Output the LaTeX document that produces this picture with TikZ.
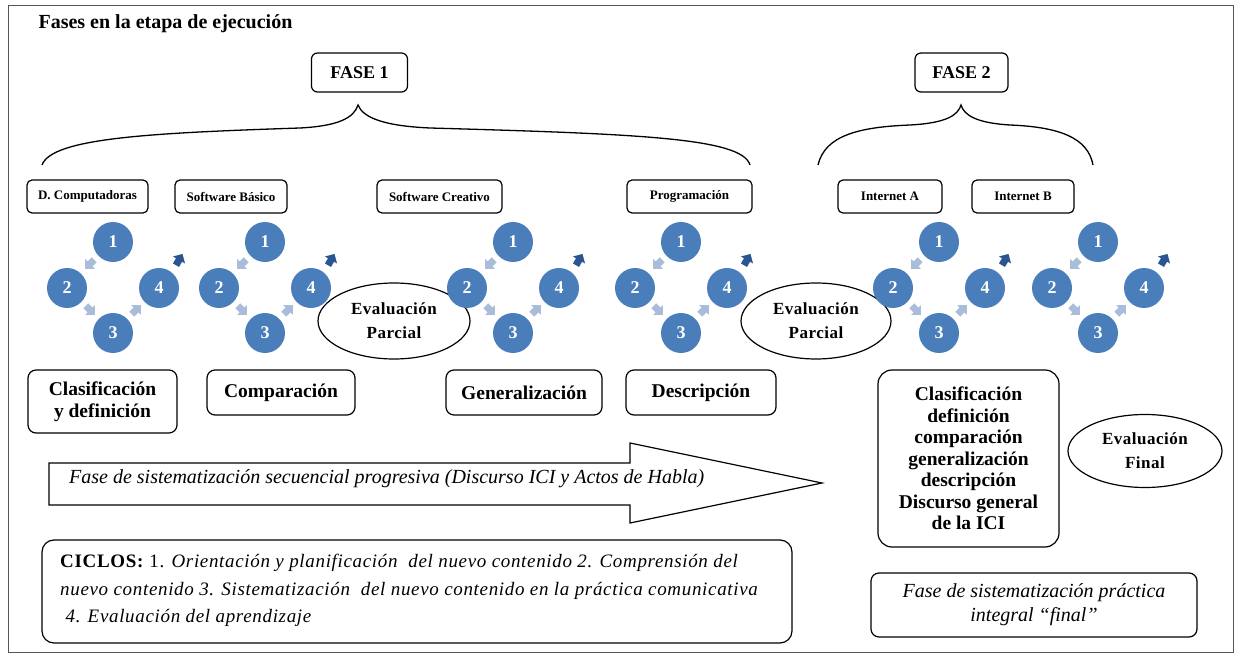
\documentclass[tikz,border=0pt]{standalone}
\usepackage{fontspec}
\setmainfont{Liberation Serif}
\newfontfamily\ciclosfont[LetterSpace=3.5]{Liberation Serif}
\newfontfamily\evalfont[LetterSpace=3]{Liberation Serif}
\usetikzlibrary{shapes.geometric}
\newcommand\fsz[2]{\fontsize{#1}{#2}\selectfont}
\definecolor{circblue}{HTML}{4A7EBB}
\definecolor{lightarr}{HTML}{A9BCDA}
\definecolor{darkarr}{HTML}{2B5591}
\definecolor{framegray}{HTML}{555555}
\tikzset{
  topbox/.style={draw, line width=1.2pt, rounded corners=5pt, minimum height=33pt, inner sep=0pt, font=\fsz{13}{15}\bfseries},
  fasebox/.style={draw, line width=1.2pt, rounded corners=6pt, minimum height=39pt, inner sep=0pt, font=\fsz{18}{20}\bfseries},
  labbox/.style={draw, line width=1.2pt, rounded corners=8pt, inner sep=0pt, align=center, font=\fsz{19.5}{22}\bfseries},
  evalell/.style={draw, line width=1.2pt, ellipse, fill=white, inner sep=0pt, align=center, font=\evalfont\fsz{17}{24}\bfseries},
  numcirc/.style={circle, fill=circblue, minimum size=40pt, inner sep=0pt, text=white, font=\fsz{18}{20}\bfseries},
  brace/.style={line width=1.3pt},
  bigarrow/.style={draw, line width=1.2pt, fill=white},
}
\newcommand\smallarr[4]{% x, y, angle, color
  \fill[#4, shift={(#1,#2)}, rotate=#3] (-6,-3.5) -- (0,-3.5) -- (0,-7) -- (7,0) -- (0,7) -- (0,3.5) -- (-6,3.5) -- cycle;}
\newcommand\cycle[2]{% cx, prefix
  \node[numcirc] (#2one) at (#1,242) {1};
  \node[numcirc] (#2two) at ({#1-46},288) {2};
  \node[numcirc] (#2four) at ({#1+46},288) {4};
  \node[numcirc] (#2three) at (#1,333) {3};
  \smallarr{#1-23}{264}{225}{lightarr}
  \smallarr{#1-23}{310}{-45}{lightarr}
  \smallarr{#1+23}{310}{45}{lightarr}
  \smallarr{#1+66}{260}{60}{darkarr}
}
\begin{document}
\begin{tikzpicture}[x=1pt,y=-1pt]
\useasboundingbox (0,0) rectangle (1240,660);
\fill[white] (0,0) rectangle (1240,660);
\draw[framegray, line width=1pt] (8,6) rectangle (1233,652);

\node[anchor=west, font=\fsz{20}{24}\bfseries] (title) at (35,24) {Fases en la etapa de ejecución};

\node[fasebox, minimum width=96pt] (fase1) at (359.5,72.5) {FASE 1};
\node[fasebox, minimum width=93pt] (fase2) at (961.5,72.5) {FASE 2};

% braces
\draw[brace] (42,165) .. controls (52,138) and (150,133) .. (300,128) .. controls (338,126) and (354,118) .. (358,105) .. controls (363,118) and (385,126) .. (430,128) .. controls (640,134) and (742,138) .. (750,165);
\draw[brace] (818,165) .. controls (825,135) and (860,127) .. (910,125) .. controls (947,123) and (958,115) .. (961,105) .. controls (964,115) and (976,123) .. (1010,125) .. controls (1060,127) and (1088,138) .. (1093,165);

% top boxes
\node[topbox, minimum width=121pt] (dcomp) at (87.5,196.5) {D. Computadoras};
\node[topbox, minimum width=112pt] (sbas) at (231,196.5) {Software Básico};
\node[topbox, minimum width=125pt] (screa) at (439.5,196.5) {Software Creativo};
\node[topbox, minimum width=125pt] (prog) at (689.5,196.5) {Programación};
\node[topbox, minimum width=104pt] (inta) at (890,196.5) {Internet A};
\node[topbox, minimum width=102pt] (intb) at (1023,196.5) {Internet B};

% evaluation ellipses (under circles)
\node[evalell, minimum width=152pt, minimum height=76pt] (evalp1) at (394,321) {Evaluación\\Parcial};
\node[evalell, minimum width=150pt, minimum height=76pt] (evalp2) at (816,321) {Evaluación\\Parcial};

% cycles
\cycle{113}{ca}
\cycle{265}{cb}
\cycle{513}{cc}
\cycle{681}{cd}
\cycle{939}{ce}
\cycle{1098}{cf}

% bottom label boxes
\node[labbox, minimum width=149pt, minimum height=63pt] (clasif) at (102.5,401.5) {Clasificación\\y definición};
\node[labbox, minimum width=148pt, minimum height=45pt] (compar) at (281,392.5) {Comparación};
\node[labbox, minimum width=156pt, minimum height=45pt] (gener) at (524,392.5) {Generalización};
\node[labbox, minimum width=150pt, minimum height=45pt] (descr) at (701,392.5) {Descripción};

% big arrow
\draw[bigarrow] (49,463) -- (630,463) -- (630,443) -- (822,483) -- (630,523) -- (630,505) -- (49,505) -- cycle;
\node[anchor=west, font=\fsz{20}{24}\itshape, inner sep=0pt] (arrowtxt) at (69,479) {Fase de sistematización secuencial progresiva (Discurso ICI y Actos de Habla)};

% CICLOS box
\node[draw, line width=1.2pt, rounded corners=12pt, minimum width=750pt, minimum height=103pt] (ciclosbox) at (417,591.5) {};
\node[anchor=north west, align=left, font=\ciclosfont\fsz{19}{27.5}, inner sep=0pt] (ciclostxt) at (60,554) {\textbf{CICLOS:} 1. \textit{Orientación y planificación\ \ del nuevo contenido 2. Comprensión del}\\
\textit{nuevo contenido 3. Sistematización\ \ del nuevo contenido en la práctica comunicativa}\\
\ \textit{4. Evaluación del aprendizaje}};

% right side
\node[labbox, rounded corners=14pt, minimum width=181pt, minimum height=177pt, font=\fsz{19.5}{21.5}\bfseries] (summary) at (968.5,458.5) {Clasificación\\definición\\comparación\\generalización\\descripción\\Discurso general\\de la ICI};
\node[evalell, minimum width=154pt, minimum height=73pt] (evalf) at (1145,451) {Evaluación\\Final};
\node[draw, line width=1.2pt, rounded corners=8pt, minimum width=326pt, minimum height=64pt, align=center, font=\fsz{20}{24}\itshape] (finalbox) at (1034,605) {Fase de sistematización práctica\\integral “final”};
\end{tikzpicture}
\end{document}
